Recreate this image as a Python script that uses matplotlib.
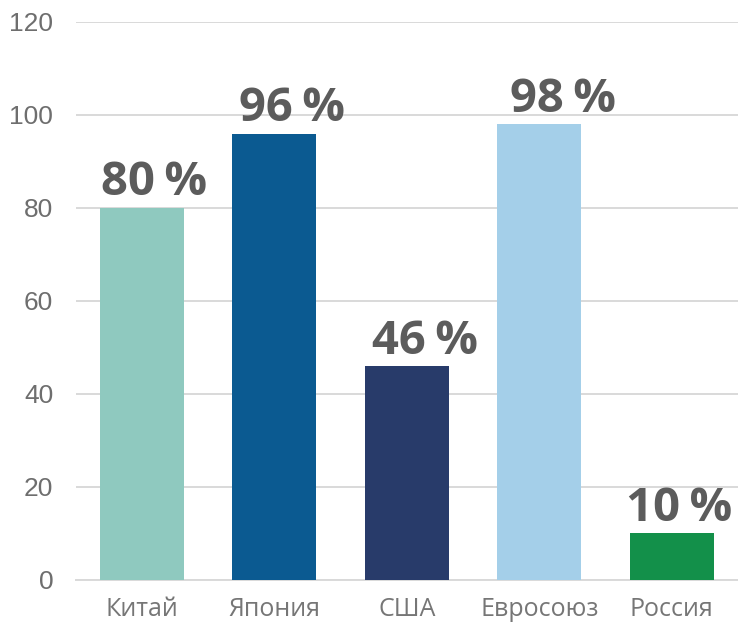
import matplotlib
matplotlib.use("Agg")
import matplotlib.pyplot as plt

categories = ["Китай", "Япония", "США", "Евросоюз", "Россия"]
values = [80, 96, 46, 98, 10]
labels = ["80\u2009%", "96\u2009%", "46\u2009%", "98\u2009%", "10\u2009%"]
colors = ["#8fc9bf", "#0b5a91", "#283b6a", "#a4cfe9", "#13904a"]
yticks = [0, 20, 40, 60, 80, 100, 120]
label_dx = [9, 13, 13, 17, 5]  # horizontal label offsets in points (style)

fig = plt.figure(figsize=(7.38, 6.26), dpi=100)
ax = fig.add_axes([0.1024, 0.0735, 0.8976, 0.8914])

x = list(range(len(categories)))
ax.bar(x, values, width=0.635, color=colors, zorder=3)
ax.set_xlim(-0.5, 4.5)
ax.set_ylim(0, 120)
ax.set_yticks(yticks)
ax.set_yticklabels([str(t) for t in yticks], fontfamily="Liberation Sans", fontsize=19, color="#6e6e6e")
ax.set_xticks(x)
ax.set_xticklabels(categories, fontfamily="Open Sans", fontsize=18, color="#767676")
ax.grid(axis="y", color="#d9d9d9", linewidth=1.4, zorder=0)
for s in ["top", "right", "left"]:
    ax.spines[s].set_visible(False)
ax.spines["bottom"].set_color("#d9d9d9")
ax.spines["bottom"].set_linewidth(1.4)
ax.tick_params(axis="both", length=0)
ax.tick_params(axis="y", pad=16)
ax.tick_params(axis="x", pad=12)

for xi, v, lab, dx in zip(x, values, labels, label_dx):
    ax.annotate(lab, (xi, v), xytext=(dx, 9), textcoords="offset points",
                ha="center", va="baseline", fontfamily=["Open Sans", "DejaVu Sans"], fontweight="bold",
                fontsize=34, color="#5c5c5c")

fig.savefig("out.png", dpi=100)
